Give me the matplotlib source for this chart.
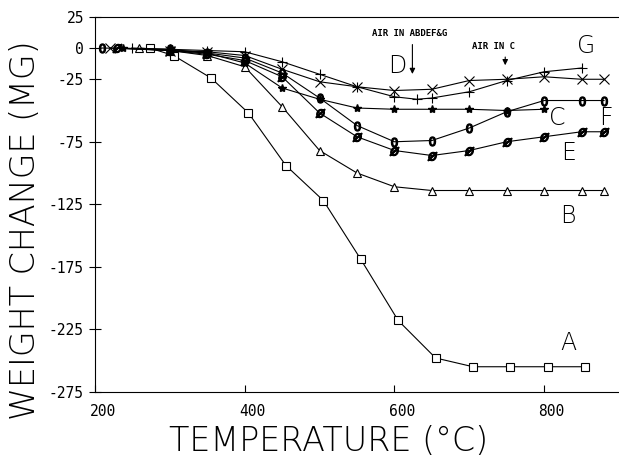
import matplotlib.pyplot as plt
import matplotlib.transforms as mtransforms

# Weight change (mg) vs temperature (C), curves A-G
t_A = [273, 305, 355, 405, 455, 505, 555, 605, 655, 705, 755, 805, 855]
w_A = [0, -6, -24, -52, -94, -122, -169, -218, -248, -255, -255, -255, -255]

t_B = [259, 300, 350, 400, 450, 500, 550, 600, 650, 700, 750, 800, 850, 880]
w_B = [0, -2, -6, -15, -47, -82, -100, -111, -114, -114, -114, -114, -114, -114]

t_C = [237, 300, 350, 400, 450, 500, 550, 600, 650, 700, 750, 800]
w_C = [0, -2, -4, -12, -32, -41, -48, -49, -49, -49, -50, -49]

t_D = [220, 300, 350, 400, 450, 500, 550, 600, 650, 700, 750, 800, 850, 880]
w_D = [0, -2, -3, -6, -17, -27, -31, -34, -33, -26, -25, -23, -25, -25]

t_E = [229, 300, 350, 400, 450, 500, 550, 600, 650, 700, 750, 800, 850, 880]
w_E = [0, -2, -5, -10, -23, -52, -71, -82, -86, -82, -75, -71, -67, -67]

t_F = [209, 300, 350, 400, 450, 500, 550, 600, 650, 700, 750, 800, 850, 880]
w_F = [0, -1, -4, -8, -20, -40, -62, -75, -74, -64, -51, -42, -42, -42]

t_G = [249, 300, 350, 400, 450, 500, 550, 600, 630, 650, 700, 750, 800, 850]
w_G = [0, -1, -2, -3, -11, -21, -31, -39, -41, -40, -35, -26, -19, -16]

# curve letters and where they sit
label_names = ['A', 'B', 'C', 'D', 'E', 'F', 'G']
label_t = [833, 832, 817, 604, 832, 883, 856]
label_w = [-236, -134, -56, -14, -84, -56, 2]

yticks = [25, 0, -25, -75, -125, -175, -225, -275]
xticks = [200, 400, 600, 800]

fig = plt.figure(figsize=(6.19, 4.57), dpi=100)
ax = fig.add_axes([0.1535, 0.1428, 0.8465, 0.8205])

style = dict(color='black', linewidth=0.8, mfc='white', mec='black', mew=0.8)
ax.plot(t_A, w_A, marker='s', markersize=6, **style)
ax.plot(t_B, w_B, marker='^', markersize=6, **style)
ax.plot(t_C, w_C, marker='*', markersize=6, color='black', linewidth=0.8)
ax.plot(t_D, w_D, marker='x', markersize=7, **style)
ax.plot(t_E, w_E, marker=r'$\O$', markersize=6.5, color='black', linewidth=0.8)
ax.plot(t_F, w_F, marker=r'$0$', markersize=6.5, color='black', linewidth=0.8)
ax.plot(t_G, w_G, marker='+', markersize=7, **style)

thin = ['DejaVu Sans']
for name, tx, wy in zip(label_names, label_t, label_w):
    ax.text(tx, wy, name, fontsize=17, fontweight='light', family=thin,
            ha='center', va='center')

# air-in arrows
ax.text(620, 12, 'AIR IN ABDEF&G', fontsize=6.5, fontweight='bold',
        family='DejaVu Sans Mono', ha='center', va='center')
ax.annotate('', xy=(624, -23), xytext=(624, 5),
            arrowprops=dict(arrowstyle='-|>', color='black', lw=0.8, mutation_scale=8))
ax.text(732, 1, 'AIR IN C', fontsize=6.5, fontweight='bold',
        family='DejaVu Sans Mono', ha='center', va='center')
ax.annotate('', xy=(748, -16), xytext=(748, -5),
            arrowprops=dict(arrowstyle='-|>', color='black', lw=0.8, mutation_scale=8))

ax.set_xlim(200, 900)
ax.set_ylim(-275, 25)
ax.set_yticks(yticks)
ax.set_xticks(xticks)
ax.set_yticklabels([str(v) for v in yticks], family='DejaVu Sans Mono', fontsize=10.5)
ax.set_xticklabels([str(v) for v in xticks], family='DejaVu Sans Mono', fontsize=10.5)
ax.tick_params(axis='y', direction='inout', length=8, width=0.8, pad=4)
ax.tick_params(axis='x', direction='in', length=5, width=0.8, pad=9)
offset = mtransforms.ScaledTranslation(-4 / 72, 0, fig.dpi_scale_trans)
for lab in ax.get_xticklabels():
    lab.set_horizontalalignment('left')
    lab.set_transform(lab.get_transform() + offset)

ax.spines['right'].set_visible(False)
for s in ['left', 'bottom', 'top']:
    ax.spines[s].set_linewidth(0.8)

fig.text(329 / 619, 0.035, 'TEMPERATURE (°C)', fontsize=24, fontweight='light',
         family=thin, ha='center', va='center')
fig.text(26 / 619, 0.497, 'WEIGHT CHANGE (MG)', fontsize=24, fontweight='light',
         family=thin, ha='center', va='center', rotation=90)

fig.savefig('out.png', dpi=100)
